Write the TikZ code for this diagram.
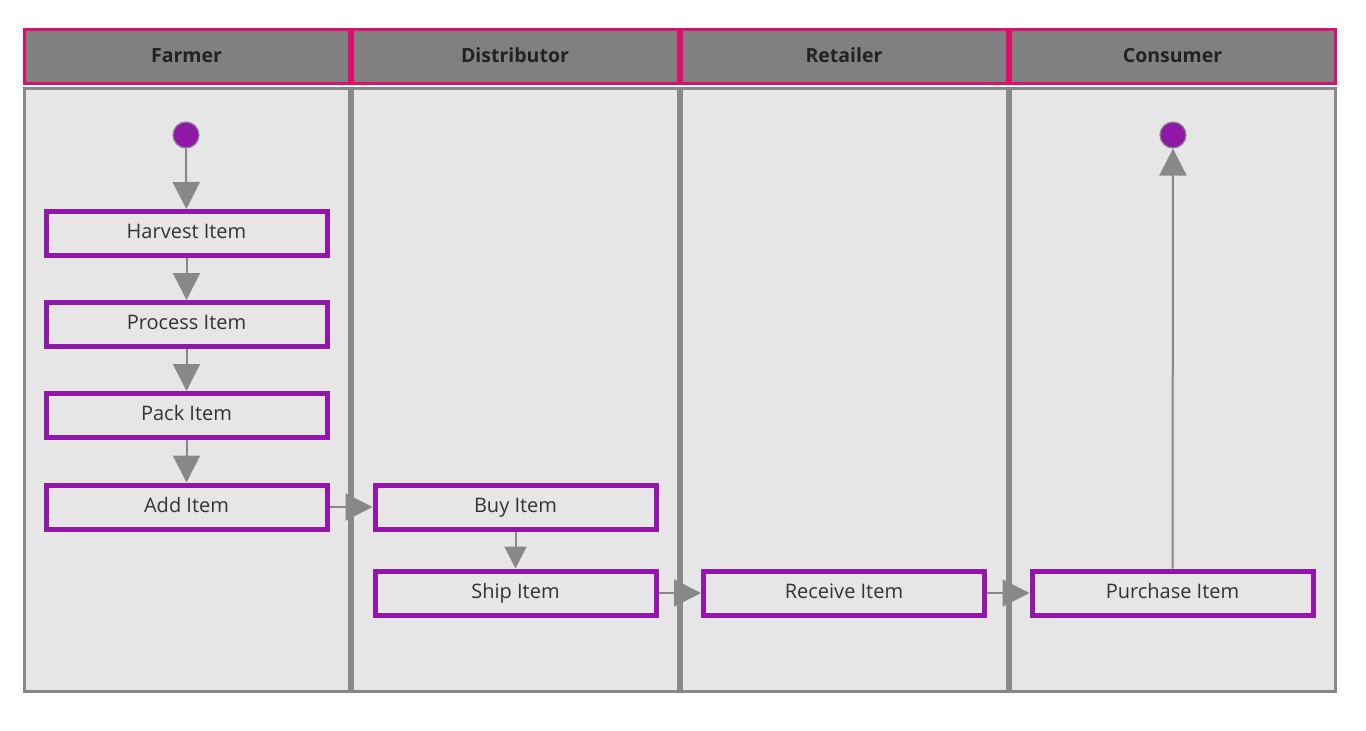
\documentclass[tikz,border=0pt]{standalone}
\usepackage{fontspec}
\setmainfont{Open Sans}
\usetikzlibrary{arrows.meta}
\definecolor{lanefill}{HTML}{E6E6E6}
\definecolor{laneline}{HTML}{888888}
\definecolor{headfill}{HTML}{808080}
\definecolor{headline}{HTML}{DC0F6B}
\definecolor{boxline}{HTML}{9116AA}
\definecolor{txt}{HTML}{333333}
\definecolor{htxt}{HTML}{222222}
\begin{document}
\begin{tikzpicture}[x=1pt,y=-1pt,
  lane/.style={draw=laneline,fill=lanefill,line width=3pt},
  lanehead/.style={draw=headline,fill=headfill,line width=3pt},
  headtext/.style={text=htxt,font=\fontsize{19.5}{23}\selectfont\bfseries,text height=14pt,text depth=4pt,inner sep=0pt},
  actbox/.style={draw=boxline,fill=lanefill,line width=5pt,minimum width=281pt,minimum height=44pt,inner sep=0pt,text=txt,font=\fontsize{20}{24}\selectfont,text height=14.5pt,text depth=4.5pt},
  dot/.style={circle,draw=laneline,fill=boxline,line width=1.2pt,minimum size=26pt,inner sep=0pt},
  flow/.style={draw=laneline,line width=2pt,-{Triangle[width=27pt,length=27pt]}},
  flows/.style={draw=laneline,line width=2pt,-{Triangle[width=22pt,length=22pt]}}]
\useasboundingbox (0,0) rectangle (1366,731);
\fill[white] (0,0) rectangle (1366,731);
% lane bodies
\draw[lane] (24,88) rectangle (349,691);
\draw[lane] (352,88) rectangle (678,691);
\draw[lane] (681,88) rectangle (1007,691);
\draw[lane] (1010,88) rectangle (1335,691);
% headers
\draw[lanehead] (24,29) rectangle (349,83);
\draw[lanehead] (352,29) rectangle (678,83);
\draw[lanehead] (681,29) rectangle (1007,83);
\draw[lanehead] (1010,29) rectangle (1335,83);
\node[headtext] (hf) at (186.5,57) {Farmer};
\node[headtext] (hd) at (515,57) {Distributor};
\node[headtext] (hr) at (844,57) {Retailer};
\node[headtext] (hc) at (1172.5,57) {Consumer};
% nodes
\node[dot] (start) at (186,135) {};
\node[dot] (end) at (1173,135) {};
\node[actbox] (harvest) at (186.5,233.5) {Harvest Item};
\node[actbox] (process) at (186.5,324.5) {Process Item};
\node[actbox] (pack) at (186.5,415.5) {Pack Item};
\node[actbox] (add) at (186.5,507) {Add Item};
\node[actbox] (buy) at (515.5,507) {Buy Item};
\node[actbox] (ship) at (515.5,593) {Ship Item};
\node[actbox] (receive) at (844,593) {Receive Item};
\node[actbox] (purchase) at (1172.5,593) {Purchase Item};
% connectors
\draw[flow] (start) -- (harvest);
\draw[flow] (harvest) -- (process);
\draw[flow] (process) -- (pack);
\draw[flow] (pack) -- (add);
\draw[flow] (add) -- (buy);
\draw[flows] (buy) -- (ship);
\draw[flow] (ship) -- (receive);
\draw[flow] (receive) -- (purchase);
\draw[flow] (purchase) -- (end);
\end{tikzpicture}
\end{document}
